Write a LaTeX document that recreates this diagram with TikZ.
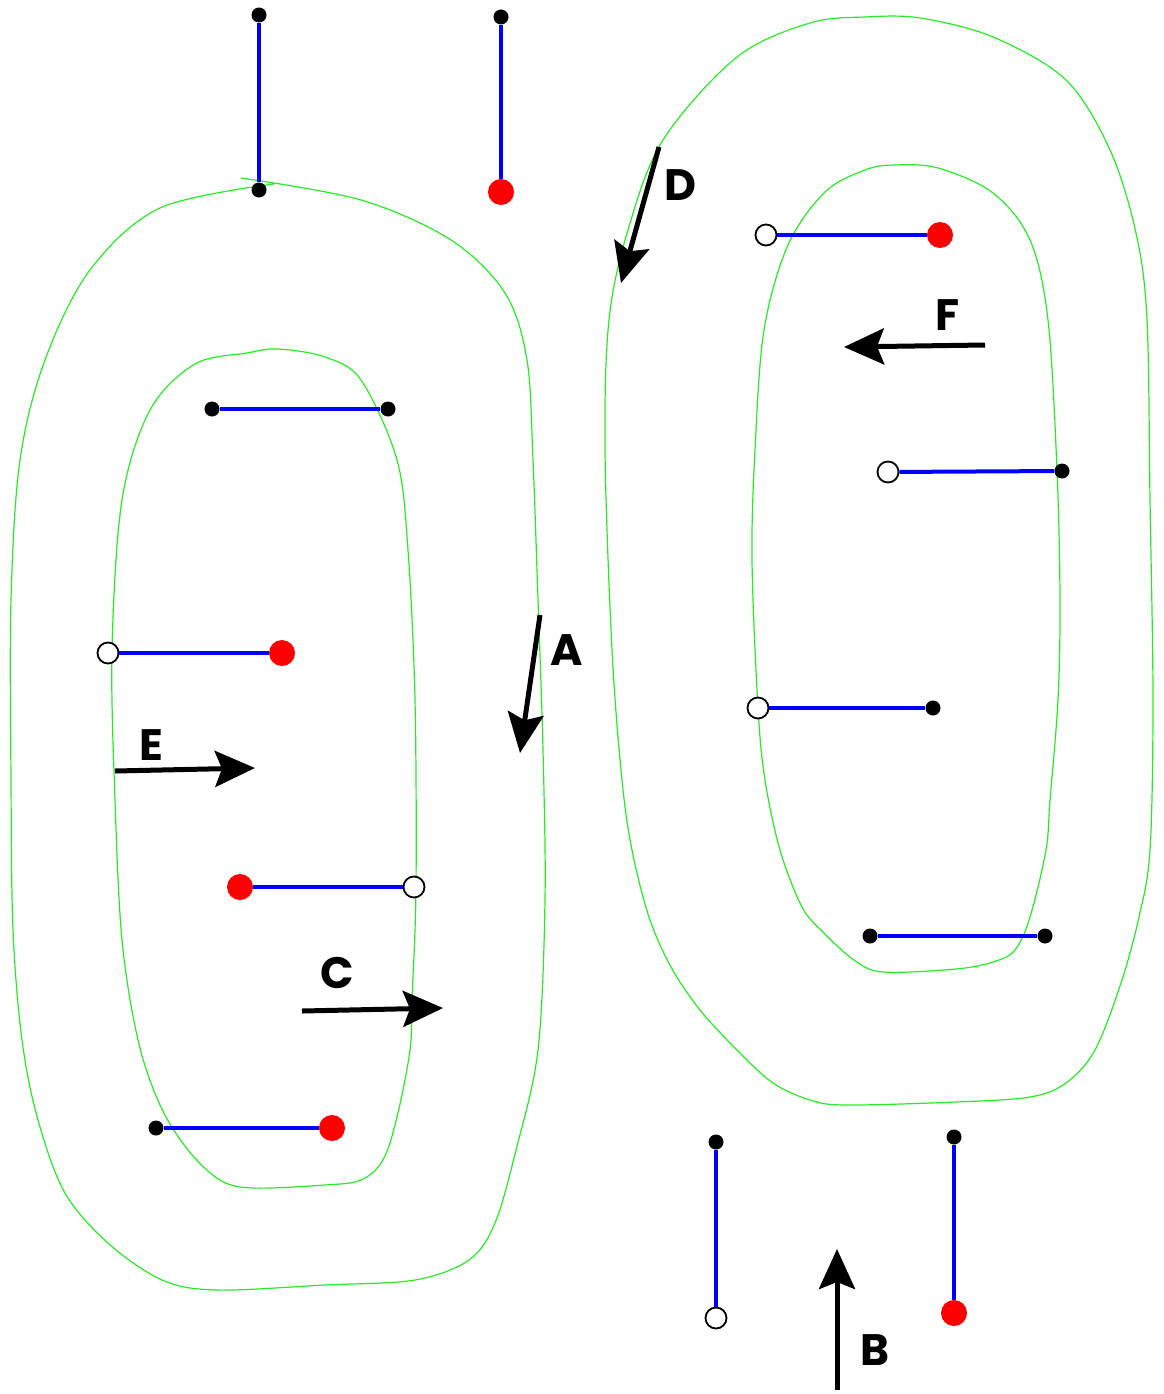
\documentclass[tikz,border=0pt]{standalone}
\usepackage{fontspec}
\setsansfont{Poppins}
\usetikzlibrary{arrows.meta}
\definecolor{loopgreen}{RGB}{40,235,40}
\begin{document}
\begin{tikzpicture}[x=1pt,y=-1pt,
  bdot/.style={circle,fill=black,inner sep=0pt,minimum size=15pt},
  rdot/.style={circle,fill=red,inner sep=0pt,minimum size=26pt},
  odot/.style={circle,draw=black,fill=white,line width=1.8pt,inner sep=0pt,minimum size=21pt},
  link/.style={blue,line width=4pt},
  loop/.style={loopgreen,line width=1.2pt},
  arr/.style={line width=5pt,-{Stealth[length=40pt,width=36pt,inset=7pt]}},
  lab/.style={font=\sffamily\bfseries\fontsize{44}{50}\selectfont,inner sep=0pt}]
\useasboundingbox (0,0) rectangle (1163,1394);
\fill[white] (0,0) rectangle (1163,1394);

% green loops
\draw[loop] plot[smooth,tension=0.55] coordinates {(241,178) (361,200) (451,240) (505,293) (527,360) (533,460) (538,600) (543,750) (545,900) (538,1050) (516,1150) (495,1223) (469,1260) (415,1280) (325,1285) (217,1290) (162,1280) (108,1243) (65,1193) (38,1120) (22,1040) (13,930) (11,780) (11,600) (20,460) (45,360) (90,270) (160,208) (274,184)};
\draw[loop] plot[smooth cycle,tension=0.55] coordinates {(247,353) (278,349) (325,357) (361,380) (397,460) (408,550) (415,700) (416,887) (412,1000) (410,1050) (397,1117) (383,1160) (361,1180) (325,1185) (253,1188) (220,1180) (188,1150) (160,1105) (138,1040) (122,940) (115,800) (112,650) (122,500) (150,410) (195,364)};
\draw[loop] plot[smooth cycle,tension=0.55] coordinates {(865,17) (920,18) (993,37) (1066,80) (1110,150) (1136,233) (1147,320) (1150,500) (1153,700) (1150,850) (1139,917) (1121,983) (1095,1050) (1066,1083) (1030,1097) (956,1102) (846,1105) (810,1100) (773,1083) (737,1050) (700,1010) (671,967) (649,917) (632,850) (622,780) (612,650) (605,450) (609,320) (628,230) (663,140) (737,57) (810,23)};
\draw[loop] plot[smooth cycle,tension=0.55] coordinates {(894,165) (938,168) (993,193) (1030,240) (1048,320) (1057,470) (1060,600) (1058,700) (1050,800) (1046,850) (1030,917) (1015,950) (993,962) (956,969) (883,972) (854,960) (824,933) (802,907) (780,850) (765,780) (758,708) (752,560) (755,450) (764,330) (788,245) (825,192) (865,170)};

% dots
\node[bdot] (t1a) at (259,15) {};
\node[bdot] (t1b) at (259,190) {};
\node[bdot] (t2a) at (501,17) {};
\node[rdot] (t2b) at (501,192) {};

\node[bdot] (l1a) at (212,409) {};
\node[bdot] (l1b) at (388,409) {};
\node[odot] (l2a) at (108,653) {};
\node[rdot] (l2b) at (282,653) {};
\node[rdot] (l3a) at (240,887) {};
\node[odot] (l3b) at (414,887) {};
\node[bdot] (l4a) at (156,1128) {};
\node[rdot] (l4b) at (332,1128) {};

\node[odot] (r1a) at (766,235) {};
\node[rdot] (r1b) at (940,235) {};
\node[odot] (r2a) at (888,472) {};
\node[bdot] (r2b) at (1062,471) {};
\node[odot] (r3a) at (758,708) {};
\node[bdot] (r3b) at (933,708) {};
\node[bdot] (r4a) at (870,936) {};
\node[bdot] (r4b) at (1045,936) {};

\node[bdot] (b1a) at (716,1142) {};
\node[odot] (b1b) at (716,1318) {};
\node[bdot] (b2a) at (954,1137) {};
\node[rdot] (b2b) at (954,1313) {};

% links
\foreach \p/\q in {t1a/t1b,t2a/t2b,l1a/l1b,l2a/l2b,l3a/l3b,l4a/l4b,r1a/r1b,r2a/r2b,r3a/r3b,r4a/r4b,b1a/b1b,b2a/b2b}
  \draw[link] (\p) -- (\q);

% arrows
\coordinate (aS) at (540,615); \coordinate (aE) at (520,753);
\coordinate (dS) at (659,147); \coordinate (dE) at (621,283);
\coordinate (eS) at (115,771); \coordinate (eE) at (255,768);
\coordinate (cS) at (302,1011); \coordinate (cE) at (443,1008);
\coordinate (fS) at (985,345); \coordinate (fE) at (844,347);
\coordinate (bS) at (837,1390); \coordinate (bE) at (837,1249);
\draw[arr] (aS) -- (aE);
\draw[arr] (dS) -- (dE);
\draw[arr] (eS) -- (eE);
\draw[arr] (cS) -- (cE);
\draw[arr] (fS) -- (fE);
\draw[arr] (bS) -- (bE);

% labels
\node[lab] (labA) at (567,650) {A};
\node[lab] (labD) at (680,185) {D};
\node[lab] (labE) at (151,745) {E};
\node[lab] (labC) at (337,973) {C};
\node[lab] (labF) at (948,315) {F};
\node[lab] (labB) at (875,1350) {B};
\end{tikzpicture}
\end{document}
